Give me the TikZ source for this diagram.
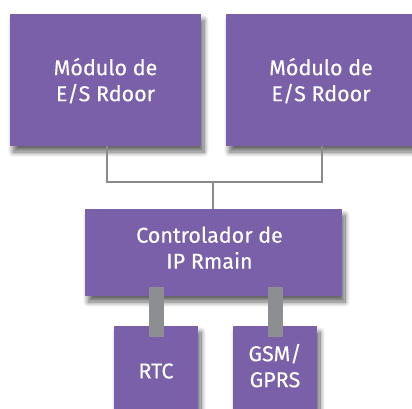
\documentclass[tikz,border=0pt]{standalone}
\usepackage{fontspec}
\setmainfont{Fira Sans}[FakeBold=0.25]
\usetikzlibrary{shadows.blur}
\definecolor{boxpurple}{RGB}{122,96,168}
\definecolor{linegray}{RGB}{138,138,140}
\definecolor{bargray}{RGB}{140,142,146}
\tikzset{
  box/.style={fill=boxpurple, draw=none, text=white, align=center,
    font=\fontsize{21.5}{26}\selectfont, inner sep=0pt,
    blur shadow={shadow blur steps=12, shadow xshift=3pt, shadow yshift=-6pt, shadow opacity=60, shadow blur radius=5pt}},
  wire/.style={draw=linegray, line width=2pt},
  bar/.style={draw=bargray, line width=15pt}
}
\newcommand{\shiftdown}[2]{\raisebox{-#1}[\height][\depth]{\begin{tabular}{@{}c@{}}#2\end{tabular}}}
\begin{document}
\begin{tikzpicture}[x=1pt,y=-1pt]
\useasboundingbox (0,0) rectangle (412,408);
\node[box, minimum width=191pt, minimum height=132pt] (m1) at (105.5,80) {\shiftdown{3pt}{Módulo de\\E/S Rdoor}};
\node[box, minimum width=190pt, minimum height=132pt] (m2) at (321,80) {\shiftdown{3pt}{Módulo de\\E/S Rdoor}};
\node[box, minimum width=257pt, minimum height=87pt] (ctrl) at (213.5,252.5) {\hspace*{-8pt}\shiftdown{-2pt}{Controlador de\\IP Rmain}};
\node[box, minimum width=84pt, minimum height=90pt] (rtc) at (156,371) {RTC};
\node[box, minimum width=84pt, minimum height=90pt] (gsm) at (275,371) {\shiftdown{-2pt}{GSM/\\GPRS}};
\coordinate (j) at (213,182);
\draw[wire] (m1.south -| 107,0) |- (j) -| (m2.south -| 322,0);
\draw[wire] (j) -- (ctrl.north -| j);
\draw[bar] ([yshift=9pt]ctrl.south -| rtc.north) -- ([yshift=-11pt]rtc.north);
\draw[bar] ([yshift=9pt]ctrl.south -| gsm.north) -- ([yshift=-11pt]gsm.north);
\end{tikzpicture}
\end{document}
